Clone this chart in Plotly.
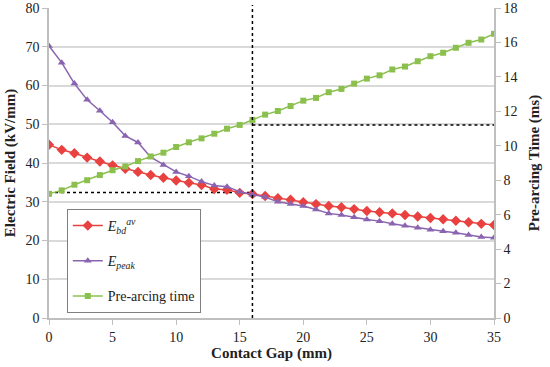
import plotly.graph_objects as go

# ---- data ----
gap_mm = list(range(0, 36))
e_bd_av = [44.7, 43.4, 42.5, 41.4, 40.4, 39.4, 38.5, 37.7, 36.9, 36.2,
           35.5, 34.9, 34.3, 33.3, 33.1, 32.3, 32.0, 31.5, 30.9, 30.5,
           29.9, 29.4, 28.9, 28.6, 28.1, 27.6, 27.3, 27.0, 26.6, 26.2,
           25.8, 25.5, 25.1, 24.7, 24.3, 24.0]
e_peak = [70.2, 65.9, 60.5, 56.3, 53.5, 50.5, 47.0, 45.3, 41.5, 39.5,
          37.7, 36.6, 35.2, 34.2, 33.9, 32.6, 31.8, 31.2, 30.0, 29.4,
          28.9, 28.0, 27.0, 26.6, 26.0, 25.4, 25.0, 24.3, 23.8, 23.3,
          22.8, 22.4, 22.0, 21.4, 20.9, 20.7]
pre_arcing_ms = [7.21, 7.41, 7.74, 8.00, 8.30, 8.58, 8.80, 9.11, 9.38, 9.60,
                 9.93, 10.20, 10.43, 10.70, 10.99, 11.21, 11.50, 11.81, 12.02, 12.31,
                 12.62, 12.78, 13.11, 13.30, 13.61, 13.90, 14.09, 14.43, 14.60, 14.91,
                 15.20, 15.40, 15.69, 15.98, 16.17, 16.50]

# reference (dotted) guide values
ref_gap = 16
ref_field = 32.4
ref_time = 11.2

x_ticks = [0, 5, 10, 15, 20, 25, 30, 35]
left_ticks = [0, 10, 20, 30, 40, 50, 60, 70, 80]
right_ticks = [0, 2, 4, 6, 8, 10, 12, 14, 16, 18]

RED = "#E8413F"
PURPLE = "#8A64B0"
GREEN = "#8CC04E"
FONT = "Liberation Serif, Times New Roman, serif"

fig = go.Figure()

# dotted guide lines
fig.add_trace(go.Scatter(x=[0, ref_gap], y=[ref_field, ref_field], mode="lines",
                         line=dict(color="black", width=1.5, dash="dot"),
                         showlegend=False, hoverinfo="skip"))
fig.add_trace(go.Scatter(x=[ref_gap, 35], y=[ref_time, ref_time], mode="lines",
                         line=dict(color="black", width=1.5, dash="dot"),
                         yaxis="y2", showlegend=False, hoverinfo="skip"))
fig.add_shape(type="line", xref="x", yref="paper", x0=ref_gap, x1=ref_gap, y0=0, y1=1.01,
              line=dict(color="black", width=1.5, dash="dot"))

fig.add_trace(go.Scatter(
    x=gap_mm, y=e_bd_av, mode="lines+markers",
    name="<i>E</i><sub><i>bd</i></sub><sup><i>av</i></sup>",
    line=dict(color=RED, width=1.5),
    marker=dict(symbol="diamond", size=8, color=RED),
    legendgroup="a"))
fig.add_trace(go.Scatter(
    x=gap_mm, y=e_peak, mode="lines+markers",
    name="<i>E</i><sub><i>peak</i></sub>",
    line=dict(color=PURPLE, width=1.5),
    marker=dict(symbol="triangle-up", size=7, color=PURPLE),
    legendgroup="b"))
fig.add_trace(go.Scatter(
    x=gap_mm, y=pre_arcing_ms, mode="lines+markers",
    name="Pre-arcing time",
    line=dict(color=GREEN, width=1.5),
    marker=dict(symbol="square", size=6, color=GREEN),
    yaxis="y2", legendgroup="c"))

axis_common = dict(showline=True, linecolor="#BFBFBF", linewidth=1.5,
                   ticks="outside", ticklen=5, tickcolor="#BFBFBF",
                   tickfont=dict(family=FONT, size=14, color="#222"),
                   zeroline=False, automargin=False)

fig.update_layout(
    width=550, height=367,
    margin=dict(l=49, r=56, t=8, b=49),
    paper_bgcolor="white", plot_bgcolor="white",
    font=dict(family=FONT, color="#222"),
    xaxis=dict(range=[0, 35], tickvals=x_ticks, showgrid=False,
               title=dict(text="<b>Contact Gap (mm)</b>", font=dict(family=FONT, size=15), standoff=4),
               **axis_common),
    yaxis=dict(range=[0, 80], tickvals=left_ticks, showgrid=True,
               gridcolor="#D9D9D9", gridwidth=1.5,
               title=dict(text="<b>Electric Field (kV/mm)</b>", font=dict(family=FONT, size=15), standoff=6),
               **axis_common),
    yaxis2=dict(range=[0, 18], tickvals=right_ticks, overlaying="y", side="right",
                showgrid=False,
                title=dict(text="<b>Pre-arcing Time (ms)</b>", font=dict(family=FONT, size=15), standoff=12),
                **axis_common),
    legend=dict(x=0.04, y=0.352, xanchor="left", yanchor="top",
                bgcolor="white", bordercolor="#7F7F7F", borderwidth=1,
                font=dict(family=FONT, size=14, color="#222"),
                traceorder="grouped", tracegroupgap=14,
                itemwidth=30),
    showlegend=True,
)

# remove the default page margin so the figure sits at the window's top-left corner
fig.write_html("out.html", config={"displayModeBar": False},
               post_script="document.body.style.margin='0';")
